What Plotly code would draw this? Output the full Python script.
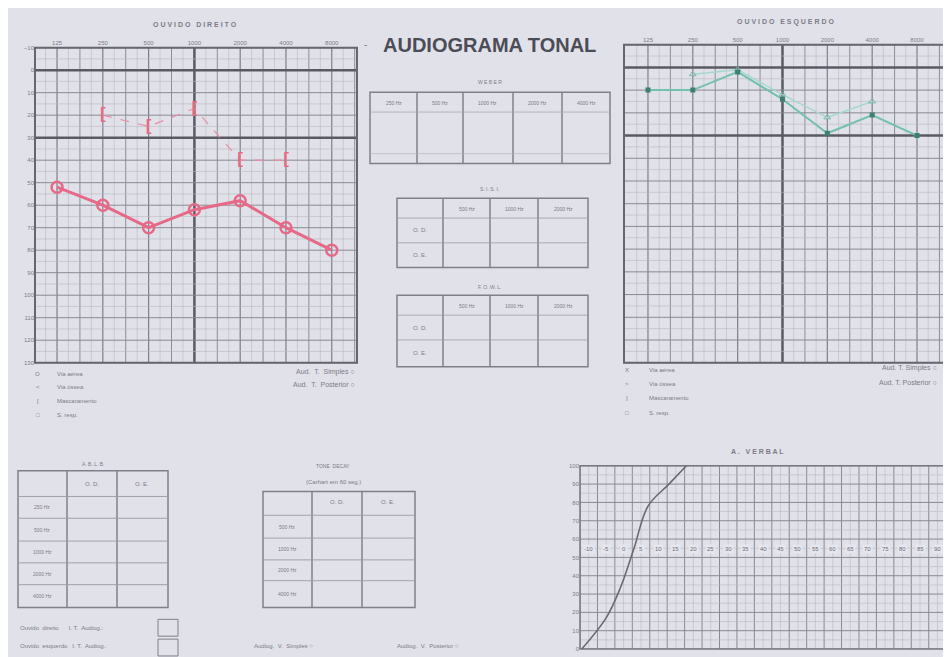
import math
import plotly.graph_objects as go

# The page body keeps an 8px margin, so the figure is sized to fill the rest of the 951x657 window
OFF = 8
W, H = 951 - OFF, 657 - OFF

# ---------------- data ----------------
freqs = [125, 250, 500, 1000, 2000, 4000, 8000]
freq_labels = ["125", "250", "500", "1000", "2000", "4000", "8000"]
db_ticks = list(range(-10, 131, 10))

od_air = [52, 60, 70, 62, 58, 70, 80]
od_bone_freqs = [250, 500, 1000, 2000, 4000]
od_bone = [20, 25, 17, 40, 40]

oe_air = [10, 10, 2, 14, 29, 21, 30]
oe_bone_freqs = [250, 500, 1000, 2000, 4000]
oe_bone = [3, 1, 12, 22, 15]

speech_db = [-12, -5, -1, 3, 7, 13, 18]
speech_pct = [0, 17, 33, 55, 78, 90, 100]
speech_row_labels = list(range(-10, 95, 5))
speech_pct_ticks = list(range(0, 101, 10))

weber_cols = ["250 Hz", "500 Hz", "1000 Hz", "2000 Hz", "4000 Hz"]
sisi_cols = ["500 Hz", "1000 Hz", "2000 Hz"]
ears = ["O. D.", "O. E."]
abl_rows = ["250 Hz", "500 Hz", "1000 Hz", "2000 Hz", "4000 Hz"]
decay_rows = ["500 Hz", "1000 Hz", "2000 Hz", "4000 Hz"]

# ---------------- helpers ----------------
def PX(x):
    return (x - OFF) / W

def PY(y):
    return 1 - (y - OFF) / H

TXT = "#7c7c88"
FONT = "Liberation Sans, Arial, sans-serif"
shapes = []
anns = []

def ann(x, y, text, size=6, color=TXT, xanchor="center", bold=False):
    anns.append(dict(x=PX(x), y=PY(y), xref="paper", yref="paper", text=("<b>%s</b>" % text) if bold else text,
                     showarrow=False, xanchor=xanchor, yanchor="middle",
                     font=dict(size=size, color=color, family=FONT)))

def line(x0, y0, x1, y1, color="#80808c", width=1):
    shapes.append(dict(type="line", xref="paper", yref="paper", x0=PX(x0), y0=PY(y0), x1=PX(x1), y1=PY(y1),
                       line=dict(color=color, width=width), layer="below"))

def rect(x0, y0, x1, y1, color="#80808c", width=1.5, fill=None):
    shapes.append(dict(type="rect", xref="paper", yref="paper", x0=PX(x0), y0=PY(y0), x1=PX(x1), y1=PY(y1),
                       line=dict(color=color, width=width), fillcolor=fill or "rgba(0,0,0,0)", layer="below"))

# ---------------- audiogram grids ----------------
def audio_grid(xn, yn, lr):
    r0, r1 = lr
    for k in range(-3, 30):
        f = 125 * 2 ** (k / 4)
        fr = (math.log10(f) - r0) / (r1 - r0)
        if fr <= 0.005 or fr >= 0.995:
            continue
        if abs(f - 1000) < 1:
            col, wd = "#5a5a64", 2.5
        elif k % 4 == 0:
            col, wd = "#7e7e8a", 1.2
        elif k % 2 == 0:
            col, wd = "#8e8e99", 1
        else:
            col, wd = "#b8b8c2", 0.6
        shapes.append(dict(type="line", xref=xn + " domain", yref=yn + " domain", x0=fr, x1=fr, y0=0, y1=1,
                           line=dict(color=col, width=wd), layer="below"))
    for db in range(-10, 131, 5):
        fr = (130 - db) / 140
        if db in (0, 30):
            col, wd = "#5a5a64", 2.5
        elif db % 10 == 0:
            col, wd = "#8a8a95", 1
        else:
            col, wd = "#b8b8c2", 0.6
        shapes.append(dict(type="line", xref=xn + " domain", yref=yn + " domain", x0=0, x1=1, y0=fr, y1=fr,
                           line=dict(color=col, width=wd), layer="below"))
    shapes.append(dict(type="rect", xref=xn + " domain", yref=yn + " domain", x0=0, x1=1, y0=0, y1=1,
                       line=dict(color="#66666f", width=2), layer="below"))

R1 = (1.952, 4.069)
R2 = (1.936, 4.091)
audio_grid("x", "y", R1)
audio_grid("x2", "y2", R2)

# speech grid
for v in [i * 2.5 - 12.5 for i in range(0, 43)]:
    major = abs((v + 12.5) % 5) < 1e-6
    shapes.append(dict(type="line", xref="x3", yref="y3 domain", x0=v, x1=v, y0=0, y1=1,
                       line=dict(color="#8a8a95" if major else "#b8b8c2", width=1 if major else 0.6), layer="below"))
for p in range(0, 101, 5):
    major = p % 10 == 0
    shapes.append(dict(type="line", xref="x3 domain", yref="y3", x0=0, x1=1, y0=p, y1=p,
                       line=dict(color="#8a8a95" if major else "#b8b8c2", width=1 if major else 0.6), layer="below"))
shapes.append(dict(type="rect", xref="x3 domain", yref="y3 domain", x0=0, x1=1, y0=0, y1=1,
                   line=dict(color="#77777f", width=1.5), layer="below"))

# ---------------- traces ----------------
fig = go.Figure()
RED = "#e66a88"
fig.add_trace(go.Scatter(x=freqs, y=od_air, mode="lines+markers", xaxis="x", yaxis="y",
                         line=dict(color=RED, width=3),
                         marker=dict(symbol="circle-open", size=11, color=RED, line=dict(width=2.5, color=RED))))
fig.add_trace(go.Scatter(x=od_bone_freqs, y=od_bone, mode="lines+text", xaxis="x", yaxis="y",
                         text=["<b>[</b>" for _ in od_bone], textposition="middle center",
                         textfont=dict(size=17, color=RED, family=FONT),
                         line=dict(color="#ec8ea4", width=1.2, dash="dash")))
GREEN = "#74c0ae"
fig.add_trace(go.Scatter(x=oe_bone_freqs, y=oe_bone, mode="lines+markers", xaxis="x2", yaxis="y2",
                         line=dict(color="#a6d8cb", width=1.5),
                         marker=dict(symbol="triangle-up-open", size=6, color="#7fb8aa")))
fig.add_trace(go.Scatter(x=freqs, y=oe_air, mode="lines+markers", xaxis="x2", yaxis="y2",
                         line=dict(color=GREEN, width=2),
                         marker=dict(symbol="square", size=5, color="#3f7f72")))
fig.add_trace(go.Scatter(x=speech_db, y=speech_pct, mode="lines", xaxis="x3", yaxis="y3",
                         line=dict(color="#6a6a74", width=1.6, shape="spline")))

# speech row numbers
for v in speech_row_labels:
    anns.append(dict(x=v, y=54.5, xref="x3", yref="y3", text=str(v), showarrow=False,
                     font=dict(size=6, color="#6e6e7a", family=FONT), bgcolor="#e6e6ee"))

# ---------------- texts ----------------
ann(195, 22, "O U V I D O   D I R E I T O", size=7, bold=True)
ann(785, 19, "O U V I D O   E S Q U E R D O", size=7, bold=True)
ann(365, 42, "-", size=10)
ann(490, 42, "AUDIOGRAMA TONAL", size=20, color="#4c4c57", bold=True)

leg_sym = ["O", "<", "[", "□"]
leg_sym_l = ["X", ">", "]", "□"]
leg_txt = ["Via aérea", "Via óssea", "Mascaramento", "S. resp."]
for i, (s, t) in enumerate(zip(leg_sym, leg_txt)):
    ann(38, 374 + i * 14, s, size=6, xanchor="center")
    ann(55, 374 + i * 14, t, size=6, xanchor="left")
for i, (s, t) in enumerate(zip(leg_sym_l, leg_txt)):
    ann(627, 370 + i * 14.5, s, size=6, xanchor="center")
    ann(647, 370 + i * 14.5, t, size=6, xanchor="left")
ann(357, 372, "Aud.  T.  Simples ○", size=7, xanchor="right")
ann(357, 385, "Aud.  T.  Posterior ○", size=7, xanchor="right")
ann(939, 368, "Aud. T. Simples ○", size=7, xanchor="right")
ann(939, 383, "Aud. T. Posterior ○", size=7, xanchor="right")

# WEBER table
ann(490, 80, "W E B E R", size=5)
rect(370, 90, 610, 162)
cx = [370, 417, 463, 513, 562, 610]
for x in cx[1:-1]:
    line(x, 90, x, 162, width=1.5)
line(370, 110, 610, 110, color="#a8a8b2", width=0.8)
line(370, 152, 610, 152, color="#b0b0ba", width=0.6)
for i, c in enumerate(weber_cols):
    ann((cx[i] + cx[i + 1]) / 2, 101, c, size=5)

def ear_table(title, ty, y0, yh, yr, y1):
    ann(490, ty, title, size=5)
    rect(397, y0, 588, y1)
    xs = [397, 443, 490, 538, 588]
    for x in xs[1:-1]:
        line(x, y0, x, y1, width=1.5)
    line(397, yh, 588, yh, color="#9a9aa4", width=0.8)
    line(397, yr, 588, yr, color="#9a9aa4", width=0.8)
    for i, c in enumerate(sisi_cols):
        ann((xs[i + 1] + xs[i + 2]) / 2, (y0 + yh) / 2 + 1, c, size=5)
    ann(420, (yh + yr) / 2, ears[0], size=6)
    ann(420, (yr + y1) / 2, ears[1], size=6)

ear_table("S. I. S. I.", 188, 197, 217, 242, 267)
ear_table("F. O. W. L.", 287, 295, 315, 340, 367)

# bottom-left table
ann(93, 465, "A. B. L. B.", size=5)
rect(18, 472, 168, 610)
for x in (67, 117):
    line(x, 472, x, 610, width=1.5)
rows_y = [472, 498, 520, 543, 565, 587, 610]
for y in rows_y[1:-1]:
    line(18, y, 168, y, color="#9a9aa4", width=0.9)
ann(92, 485, ears[0], size=6)
ann(142, 485, ears[1], size=6)
for i, r in enumerate(abl_rows):
    ann(42, (rows_y[i + 1] + rows_y[i + 2]) / 2, r, size=5)

# bottom-center table
ann(333, 467, "TONE  DECAY", size=5)
ann(333, 483, "(Carhart em 60 seg.)", size=6)
rect(263, 493, 415, 610)
for x in (312, 362):
    line(x, 493, x, 610, width=1.5)
dy = [493, 517, 540, 562, 583, 610]
for y in dy[1:-1]:
    line(263, y, 415, y, color="#9a9aa4", width=0.9)
ann(337, 504, ears[0], size=6)
ann(388, 504, ears[1], size=6)
for i, r in enumerate(decay_rows):
    ann(287, (dy[i + 1] + dy[i + 2]) / 2, r, size=5)

# bottom line texts
ann(18, 631, "Ouvido  direito      I. T.  Audiog.:", size=6, xanchor="left")
ann(18, 649, "Ouvido  esquerdo   I. T.  Audiog.:", size=6, xanchor="left")
rect(158, 622, 178, 639, width=1)
rect(158, 642, 178, 659, width=1)
ann(252, 649, "Audiog.  V.  Simples ○", size=6, xanchor="left")
ann(395, 649, "Audiog.  V.  Posterior ○", size=6, xanchor="left")

ann(757, 453, "A .   V E R B A L", size=7, bold=True)

# ---------------- axes ----------------
tickfont = dict(size=6, color="#7c7c88", family=FONT)
common = dict(showgrid=False, zeroline=False, showline=False, ticks="", tickfont=tickfont, fixedrange=True)

fig.update_layout(
    width=W, height=H, margin=dict(l=0, r=0, t=0, b=0),
    paper_bgcolor="#e1e1e9", plot_bgcolor="rgba(0,0,0,0)",
    showlegend=False,
    xaxis=dict(domain=[PX(35), PX(357)], anchor="y", type="log", range=list(R1), side="top",
               tickvals=freqs, ticktext=freq_labels, **common),
    yaxis=dict(domain=[PY(363), PY(45)], anchor="x", range=[130, -10], tickvals=db_ticks, **common),
    xaxis2=dict(domain=[PX(624), PX(945)], anchor="y2", type="log", range=list(R2), side="top",
                tickvals=freqs, ticktext=freq_labels, **common),
    yaxis2=dict(domain=[PY(363), PY(42)], anchor="x2", range=[130, -10], side="right",
                tickvals=db_ticks, showticklabels=False, **common),
    xaxis3=dict(domain=[PX(580), PX(950)], anchor="y3", range=[-12.5, 93.6],
                tickvals=list(range(-10, 95, 5)), showticklabels=False, **common),
    yaxis3=dict(domain=[PY(652), PY(467)], anchor="x3", range=[0, 100],
                tickvals=speech_pct_ticks, **common),
    shapes=shapes, annotations=anns,
)

fig.write_html("out.html")
